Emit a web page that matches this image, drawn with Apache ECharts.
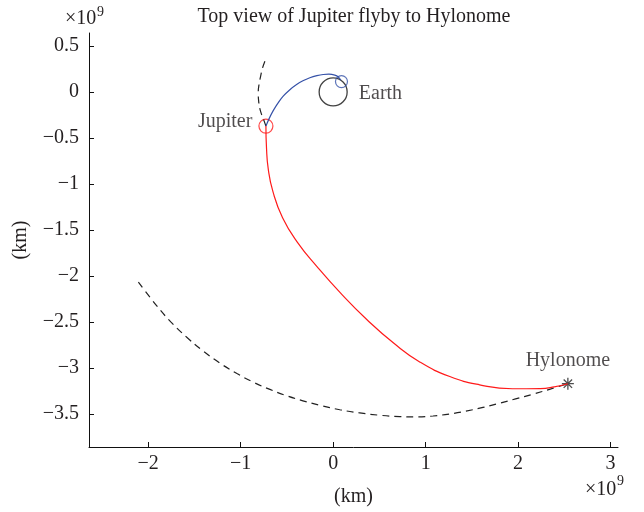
<!DOCTYPE html>
<html>
<head>
<meta charset="utf-8">
<script src="https://cdn.jsdelivr.net/npm/echarts@6/dist/echarts.min.js"></script>
<style>html,body{margin:0;padding:0;background:#fff}#c{width:644px;height:512px}</style>
</head>
<body>
<div id="c"></div>
<script>
// Units: 10^9 km
const xTicks = [-2, -1, 0, 1, 2, 3];
const yTicks = [0.5, 0, -0.5, -1, -1.5, -2, -2.5, -3, -3.5];

// Jupiter orbit segment (dashed)
const jupiterOrbitX = [-0.738, -0.765, -0.784, -0.801, -0.810, -0.806, -0.792, -0.772, -0.748, -0.727];
const jupiterOrbitY = [0.333, 0.255, 0.172, 0.085, -0.006, -0.095, -0.186, -0.250, -0.312, -0.372];

// Earth -> Jupiter leg (blue)
const earthLegX = [0.083, 0.056, 0.018, -0.046, -0.108, -0.176, -0.252, -0.327, -0.395, -0.468, -0.540, -0.597, -0.648, -0.691, -0.727];
const earthLegY = [0.126, 0.162, 0.182, 0.192, 0.189, 0.176, 0.153, 0.120, 0.080, 0.024, -0.046, -0.122, -0.204, -0.288, -0.372];

// Jupiter -> Hylonome leg (red)
const hyloLegX = [-0.727, -0.721, -0.702, -0.651, -0.547, -0.386, -0.177, 0.081, 0.369, 0.660, 0.940, 1.261, 1.584, 1.938, 2.240, 2.391, 2.538];
const hyloLegY = [-0.372, -0.601, -0.837, -1.085, -1.368, -1.636, -1.897, -2.188, -2.480, -2.736, -2.938, -3.094, -3.184, -3.227, -3.225, -3.206, -3.172];

// Hylonome orbit segment (dashed)
const hyloOrbitX = [-2.106, -1.907, -1.753, -1.580, -1.408, -1.224, -1.040, -0.857, -0.684, -0.500, -0.327, -0.144, 0.072, 0.288, 0.504, 0.720, 0.904, 1.080, 1.260, 1.433, 1.620, 1.800, 1.973, 2.160, 2.340, 2.538];
const hyloOrbitY = [-2.068, -2.326, -2.503, -2.670, -2.815, -2.949, -3.062, -3.159, -3.234, -3.304, -3.358, -3.406, -3.455, -3.490, -3.515, -3.530, -3.533, -3.523, -3.501, -3.471, -3.430, -3.384, -3.337, -3.286, -3.233, -3.172];

// Bodies
const bodyNames = ['Earth', 'Jupiter', 'Hylonome'];
const earthOrbitCenter = [0, 0];
const earthPos = [0.090, 0.112];
const jupiterPos = [-0.727, -0.372];
const hylonomePos = [2.538, -3.172];

const zip = (xs, ys) => xs.map((x, i) => [x, ys[i]]);
const FONT = 'Liberation Serif';
const TXT = '#231f20';
const FS = 20;
const fmt = v => (v < 0 ? '\u2212' : '') + Math.abs(v);

const chart = echarts.init(document.getElementById('c'), null, {renderer: 'canvas'});
const axisCommon = {
  type: 'value',
  axisLine: {show: true, onZero: false, lineStyle: {color: '#111', width: 1}},
  splitLine: {show: false},
  nameTextStyle: {fontFamily: FONT, fontSize: FS, color: TXT},
  nameLocation: 'middle'
};
chart.setOption({
  animation: false,
  backgroundColor: '#fff',
  grid: {left: 89, right: 26, top: 33, bottom: 61},
  xAxis: Object.assign({}, axisCommon, {
    min: -2.64, max: 3.08,
    name: '(km)', nameGap: 40,
    axisTick: {show: true, inside: true, length: 5, customValues: xTicks, lineStyle: {color: '#111'}},
    axisLabel: {customValues: xTicks, formatter: fmt, fontFamily: FONT, fontSize: FS, color: TXT, margin: 7}
  }),
  yAxis: Object.assign({}, axisCommon, {
    min: -3.86, max: 0.64,
    name: '(km)', nameGap: 58,
    axisTick: {show: true, inside: true, length: 5, customValues: yTicks, lineStyle: {color: '#111'}},
    axisLabel: {customValues: yTicks, formatter: fmt, fontFamily: FONT, fontSize: FS, color: TXT, margin: 10}
  }),
  graphic: [
    {type: 'text', style: {text: 'Top view of Jupiter flyby to Hylonome', x: 354, y: 17, align: 'center', verticalAlign: 'middle', font: '20px "Liberation Serif"', fill: TXT}},
    {type: 'text', style: {text: '\u00d710', x: 65, y: 19, align: 'left', verticalAlign: 'middle', font: '20px "Liberation Serif"', fill: TXT}},
    {type: 'text', style: {text: '9', x: 97, y: 12, align: 'left', verticalAlign: 'middle', font: '14px "Liberation Serif"', fill: TXT}},
    {type: 'text', style: {text: '\u00d710', x: 585, y: 490, align: 'left', verticalAlign: 'middle', font: '20px "Liberation Serif"', fill: TXT}},
    {type: 'text', style: {text: '9', x: 617, y: 481, align: 'left', verticalAlign: 'middle', font: '14px "Liberation Serif"', fill: TXT}}
  ],
  series: [
    {type: 'line', data: zip(hyloOrbitX, hyloOrbitY), smooth: 0.4, symbol: 'none',
     lineStyle: {color: '#222', width: 1.2, type: [7, 5]}},
    {type: 'line', data: zip(jupiterOrbitX, jupiterOrbitY), smooth: 0.4, symbol: 'none',
     lineStyle: {color: '#222', width: 1.2, type: [7, 5]}},
    {type: 'line', data: zip(earthLegX, earthLegY), smooth: 0.4, symbol: 'none',
     lineStyle: {color: '#3652a8', width: 1.2}},
    {type: 'line', data: zip(hyloLegX, hyloLegY), smooth: 0.5, symbol: 'none',
     lineStyle: {color: '#ff1a1a', width: 1.2}},
    {type: 'scatter', symbol: 'circle', symbolSize: 28,
     itemStyle: {color: 'rgba(0,0,0,0)', borderColor: '#111', borderWidth: 1.3},
     data: [{value: earthOrbitCenter, name: bodyNames[0]}],
     label: {show: true, position: 'right', distance: 11, offset: [0, 2], formatter: '{b}', fontFamily: FONT, fontSize: FS, color: TXT}},
    {type: 'scatter', symbol: 'circle', symbolSize: 12,
     itemStyle: {color: 'rgba(0,0,0,0)', borderColor: '#3652a8', borderWidth: 1.2},
     data: [earthPos]},
    {type: 'scatter', symbol: 'circle', symbolSize: 14,
     itemStyle: {color: 'rgba(0,0,0,0)', borderColor: '#ff1a1a', borderWidth: 1.2},
     data: [{value: jupiterPos, name: bodyNames[1]}],
     label: {show: true, position: 'left', distance: 6, offset: [0, -4], formatter: '{b}', fontFamily: FONT, fontSize: FS, color: TXT}},
    {type: 'scatter', symbol: 'path://M0,-1L0,1M-1,0L1,0M-0.7,-0.7L0.7,0.7M-0.7,0.7L0.7,-0.7', symbolSize: 12,
     itemStyle: {color: 'rgba(0,0,0,0)', borderColor: '#222', borderWidth: 1.3},
     data: [{value: hylonomePos, name: bodyNames[2]}],
     label: {show: true, position: 'top', distance: 6, formatter: '{b}', fontFamily: FONT, fontSize: FS, color: TXT}}
  ]
});
</script>
</body>
</html>
